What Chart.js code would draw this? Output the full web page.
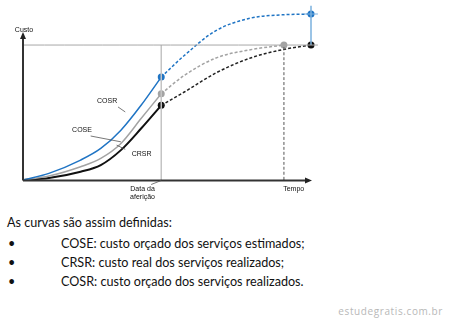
<!DOCTYPE html>
<html>
<head>
<meta charset="utf-8">
<script src="https://cdn.jsdelivr.net/npm/chart.js@4"></script>
<style>
  html, body { margin: 0; padding: 0; background: #fff; }
  #wrap { position: relative; width: 449px; height: 321px; overflow: hidden; }
  #c { position: absolute; left: 0; top: 0; }
  .t { position: absolute; font-family: Lato, "Open Sans", sans-serif; font-size: 12.6px; color: #111; white-space: nowrap; line-height: 1; }
  .wm { position: absolute; font-family: "Open Sans", sans-serif; font-size: 10px; color: #b8b8b8; white-space: nowrap; letter-spacing: 0.6px; line-height: 1; }
</style>
</head>
<body>
<div id="wrap">
  <canvas id="c" width="449" height="210"></canvas>
  <div class="t" style="left:7px; top:217px;">As curvas são assim definidas:</div>
  <div class="t" style="left:8px; top:238px;">•</div>
  <div class="t" style="left:61px; top:238px;">COSE: custo orçado dos serviços estimados;</div>
  <div class="t" style="left:8px; top:257px;">•</div>
  <div class="t" style="left:61px; top:257px;">CRSR: custo real dos serviços realizados;</div>
  <div class="t" style="left:8px; top:276px;">•</div>
  <div class="t" style="left:61px; top:276px;">COSR: custo orçado dos serviços realizados.</div>
  <div class="wm" style="right:6px; top:306px;">estudegratis.com.br</div>
</div>
<script>
// ---- data (time 0..100, cost 0..100) ----
const timeActual   = [0, 9, 20, 27, 34, 41, 48];
const cosrActual   = [0, 4, 12, 19, 30, 45, 62];
const coseActual   = [0, 2.4, 8, 13, 22, 37, 52];
const crsrActual   = [0, 1.2, 5, 9, 18, 31, 45];

const timeForecast = [48, 56, 67, 79, 90, 100];
const cosrForecast = [62, 75, 90, 97.5, 99.5, 100];
const timeCoseFc   = [48, 56, 67, 79, 90.6];
const coseForecast = [52, 63, 73.5, 78.5, 81.3];
const crsrForecast = [45, 53, 64.5, 73.5, 78.5, 81.3];

const dataDate = 48;       // "Data da aferição"
const endEstimated = 90.6; // COSE end
const endTime = 100;
const budget = 81.3;       // final budgeted cost
const budgetTop = 100;

const labels = { cost: "Custo", time: "Tempo", date: ["Data da", "aferição"], cosr: "COSR", cose: "COSE", crsr: "CRSR" };

const BLUE = "#1f74c4", GRAY = "#a3a3a3", BLACK = "#111111";

function pts(xs, ys) { return xs.map((x, i) => ({ x, y: ys[i] })); }
function endRadius(r, idxs) { return ctx => idxs.includes(ctx.dataIndex) ? r : 0; }

const lineBase = { showLine: true, fill: false, cubicInterpolationMode: "monotone", borderWidth: 1.5 };

const datasets = [
  // reference lines
  { data: [{x:0,y:budget},{x:endTime+2.4,y:budget}], borderColor:"#a8a8a8", borderWidth:1, pointRadius:0, showLine:true },
  { data: [{x:dataDate,y:0},{x:dataDate,y:budget}], borderColor:"#c4c4c4", borderWidth:1.5, pointRadius:0, showLine:true },
  { data: [{x:endEstimated,y:0},{x:endEstimated,y:budget}], borderColor:"#555", borderWidth:1, borderDash:[3,2], pointRadius:0, showLine:true },
  { data: [{x:endTime,y:budget},{x:endTime,y:budgetTop+5}], borderColor:"#7ab0de", borderWidth:1.5, pointRadius:0, showLine:true },
  { data: [{x:endTime-2.4,y:budgetTop},{x:endTime+2.4,y:budgetTop}], borderColor:"#7ab0de", borderWidth:1, pointRadius:0, showLine:true },
  // forecasts (dashed)
  Object.assign({}, lineBase, { data: pts(timeForecast, cosrForecast), borderColor: BLUE, borderDash:[3,2],
    pointRadius: endRadius(3.5,[5]), pointBackgroundColor: BLUE, pointBorderWidth:0 }),
  Object.assign({}, lineBase, { data: pts(timeCoseFc, coseForecast), borderColor: GRAY, borderDash:[3,2],
    pointRadius: endRadius(3.5,[4]), pointBackgroundColor: GRAY, pointBorderWidth:0 }),
  Object.assign({}, lineBase, { data: pts(timeForecast, crsrForecast), borderColor: "#222", borderDash:[3,2],
    pointRadius: endRadius(3.5,[5]), pointBackgroundColor: BLACK, pointBorderWidth:0 }),
  // actuals (solid)
  Object.assign({}, lineBase, { data: pts(timeActual, cosrActual), borderColor: BLUE,
    pointRadius: endRadius(3.5,[6]), pointBackgroundColor: BLUE, pointBorderWidth:0 }),
  Object.assign({}, lineBase, { data: pts(timeActual, coseActual), borderColor: GRAY,
    pointRadius: endRadius(3.5,[6]), pointBackgroundColor: GRAY, pointBorderWidth:0 }),
  Object.assign({}, lineBase, { data: pts(timeActual, crsrActual), borderColor: BLACK, borderWidth: 2,
    pointRadius: endRadius(3.5,[6]), pointBackgroundColor: BLACK, pointBorderWidth:0 }),
];

const axesPlugin = {
  id: "axes",
  afterDatasetsDraw(chart) {
    const { ctx, scales: { x, y } } = chart;
    const X = v => x.getPixelForValue(v), Y = v => y.getPixelForValue(v);
    ctx.save();
    ctx.strokeStyle = "#333"; ctx.fillStyle = "#222"; ctx.lineWidth = 2;
    const x0 = X(0), y0 = Y(0) + 0.5;
    const yTip = Y(88);
    // y axis
    ctx.beginPath(); ctx.moveTo(x0, y0); ctx.lineTo(x0, yTip + 4); ctx.stroke();
    ctx.beginPath(); ctx.moveTo(x0, yTip - 2); ctx.lineTo(x0 - 3, yTip + 5); ctx.lineTo(x0 + 3, yTip + 5); ctx.closePath(); ctx.fill();
    // x axis
    const xe = X(endTime);
    ctx.beginPath(); ctx.moveTo(x0, y0); ctx.lineTo(xe - 5, y0); ctx.stroke();
    ctx.beginPath(); ctx.moveTo(xe + 1, y0); ctx.lineTo(xe - 6, y0 - 3); ctx.lineTo(xe - 6, y0 + 3); ctx.closePath(); ctx.fill();
    // texts
    ctx.font = "7px 'Liberation Sans', Arial, sans-serif";
    ctx.fillStyle = "#111"; ctx.textAlign = "center"; ctx.textBaseline = "middle";
    ctx.fillText(labels.cost, x0 + 1, Y(92) + 3);
    ctx.fillText(labels.time, X(94), y0 + 9);
    ctx.fillText(labels.date[0], X(41.5), y0 + 9);
    ctx.fillText(labels.date[1], X(41.5), y0 + 17);
    ctx.fillText(labels.cosr, X(29.2), Y(47.5));
    ctx.fillText(labels.cose, X(20.5), Y(30));
    ctx.fillText(labels.crsr, X(41.2), Y(15.5));
    // leaders
    ctx.strokeStyle = "#555"; ctx.lineWidth = 0.8;
    ctx.beginPath(); ctx.moveTo(X(33), Y(44)); ctx.lineTo(X(35.5), Y(41)); ctx.stroke();
    ctx.beginPath(); ctx.moveTo(X(23.5), Y(26.5)); ctx.lineTo(X(34), Y(23)); ctx.stroke();
    ctx.beginPath(); ctx.moveTo(X(35.5), Y(18.5)); ctx.lineTo(X(32.5), Y(21)); ctx.stroke();
    ctx.beginPath(); ctx.moveTo(X(dataDate), y0); ctx.lineTo(X(44.5), y0 + 4); ctx.stroke();
    ctx.restore();
  }
};

new Chart(document.getElementById("c"), {
  type: "scatter",
  data: { datasets },
  options: {
    responsive: false,
    devicePixelRatio: 1,
    animation: false,
    events: [],
    layout: { padding: { left: 23, right: 138, top: 14, bottom: 30 } },
    plugins: { legend: { display: false }, tooltip: { enabled: false } },
    elements: { line: { tension: 0.4 } },
    scales: {
      x: { type: "linear", min: 0, max: 100, display: false },
      y: { type: "linear", min: 0, max: 100, display: false }
    },
    clip: false
  },
  plugins: [axesPlugin]
});
</script>
</body>
</html>
